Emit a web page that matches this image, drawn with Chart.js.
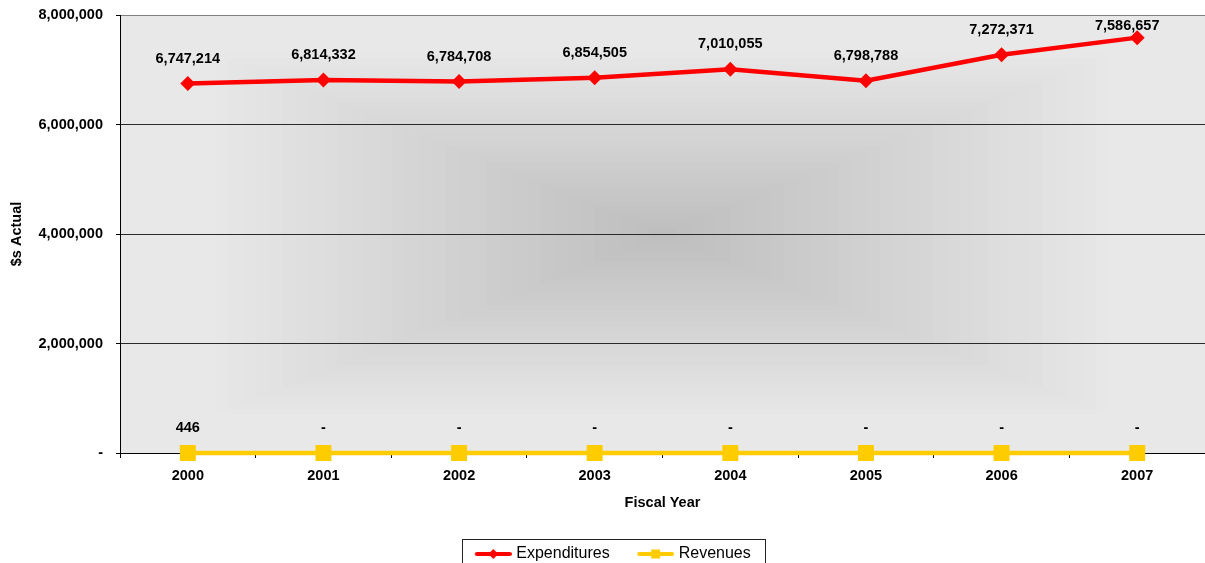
<!DOCTYPE html>
<html>
<head>
<meta charset="utf-8">
<script src="https://cdn.jsdelivr.net/npm/chart.js@4/dist/chart.umd.min.js"></script>
<style>
  html, body { margin: 0; padding: 0; background: #ffffff; }
  canvas { display: block; }
</style>
</head>
<body>
<canvas id="grafico" width="1205" height="563"></canvas>
<script>
const anios = ["2000", "2001", "2002", "2003", "2004", "2005", "2006", "2007"];
const gastos = [6747214, 6814332, 6784708, 6854505, 7010055, 6798788, 7272371, 7586657];
const ingresos = [446, 0, 0, 0, 0, 0, 0, 0];
const marcasY = [0, 2000000, 4000000, 6000000, 8000000];

const fuente = "'Liberation Sans', Arial, sans-serif";
const rojo = "#ff0000";
const amarillo = "#ffcc00";

const formato = (v) => (v === 0 ? "-" : v.toLocaleString("en-US"));

// muestra de la leyenda: linea con el marcador en medio
function muestra(color, forma) {
  const c = document.createElement("canvas");
  c.width = 61;
  c.height = 20;
  const g = c.getContext("2d");
  g.strokeStyle = color;
  g.lineWidth = 4;
  g.lineCap = "round";
  g.beginPath();
  g.moveTo(c.width - 35, 10);
  g.lineTo(c.width - 2, 10);
  g.stroke();
  g.fillStyle = color;
  const mx = c.width - 18.5;
  if (forma === "rombo") {
    g.beginPath();
    g.moveTo(mx - 5, 10);
    g.lineTo(mx, 5);
    g.lineTo(mx + 5, 10);
    g.lineTo(mx, 15);
    g.closePath();
    g.fill();
  } else {
    g.fillRect(mx - 4.5, 5.5, 9, 9);
  }
  return c;
}

// fondo del area de trazado, degradado rectangular desde el centro
const fondo = {
  id: "fondo",
  beforeDraw(chart) {
    const { ctx, chartArea: a } = chart;
    const cx = (a.left + a.right) / 2;
    const cy = (a.top + a.bottom) / 2;
    const hw = (a.right - a.left) / 2;
    const hh = (a.bottom - a.top) / 2;
    const pasos = 40;
    ctx.save();
    for (let i = pasos; i >= 1; i--) {
      const t = i / pasos;
      const k = Math.min(1, t / 0.85);
      const v = Math.round(189 + (232 - 189) * k);
      ctx.fillStyle = `rgb(${v},${v},${v})`;
      ctx.fillRect(cx - hw * t, cy - hh * t, hw * 2 * t, hh * 2 * t);
    }
    ctx.restore();
  },
};

// etiquetas de valor encima de cada punto
const etiquetas = {
  id: "etiquetas",
  afterDatasetsDraw(chart) {
    const { ctx, chartArea: a } = chart;
    ctx.save();
    ctx.font = "bold 14.5px " + fuente;
    ctx.fillStyle = "#000";
    ctx.textAlign = "center";
    ctx.textBaseline = "middle";
    chart.data.datasets.forEach((ds, i) => {
      chart.getDatasetMeta(i).data.forEach((p, j) => {
        let x = p.x;
        let y = p.y - 25;
        if (y < a.top + 11) {
          y = a.top + 11;
          x -= 10;
        }
        ctx.fillText(formato(ds.data[j]), x, y);
      });
    });
    ctx.restore();
  },
};

// recuadro alrededor de la leyenda
const marcoLeyenda = {
  id: "marcoLeyenda",
  afterDraw(chart) {
    const cajas = chart.legend.legendHitBoxes;
    if (!cajas || !cajas.length) return;
    const ultima = cajas[cajas.length - 1];
    const izq = Math.round(cajas[0].left + 8) + 0.5;
    const der = Math.round(ultima.left + ultima.width + 14) + 0.5;
    const arriba = Math.round(chart.legend.top) + 0.5;
    const { ctx } = chart;
    ctx.save();
    ctx.strokeStyle = "#222";
    ctx.lineWidth = 1;
    ctx.strokeRect(izq, arriba, der - izq, 40);
    ctx.restore();
  },
};

const muestras = [muestra(rojo, "rombo"), muestra(amarillo, "cuadro")];

new Chart(document.getElementById("grafico").getContext("2d"), {
  type: "line",
  data: {
    labels: anios,
    datasets: [
      {
        label: "Expenditures",
        data: gastos,
        borderColor: rojo,
        backgroundColor: rojo,
        borderWidth: 4.5,
        pointStyle: "rectRot",
        pointRadius: 7.5,
        pointBorderWidth: 0,
        tension: 0,
        clip: false,
      },
      {
        label: "Revenues",
        data: ingresos,
        borderColor: amarillo,
        backgroundColor: amarillo,
        borderWidth: 4.5,
        pointStyle: "rect",
        pointRadius: 11.3,
        pointBorderWidth: 0,
        tension: 0,
        clip: false,
      },
    ],
  },
  options: {
    responsive: false,
    animation: false,
    events: [],
    layout: { autoPadding: false, padding: { top: 15, right: 0, bottom: 0, left: 0 } },
    plugins: {
      tooltip: { enabled: false },
      legend: {
        position: "bottom",
        maxHeight: 24,
        labels: {
          usePointStyle: true,
          pointStyleWidth: 54,
          padding: 7,
          color: "#000",
          font: { family: fuente, size: 16 },
          generateLabels(chart) {
            const items = Chart.defaults.plugins.legend.labels.generateLabels(chart);
            items.forEach((it, i) => (it.pointStyle = muestras[i]));
            return items;
          },
        },
      },
    },
    scales: {
      x: {
        offset: true,
        grid: {
          offset: true,
          drawOnChartArea: false,
          tickLength: 5,
          tickColor: "#000",
        },
        border: { color: "#000", width: 1 },
        ticks: {
          color: "#000",
          padding: 9,
          font: { family: fuente, size: 14.5, weight: "bold" },
        },
        title: {
          display: true,
          text: "Fiscal Year",
          color: "#000",
          padding: { top: 27, bottom: 27 },
          font: { family: fuente, size: 14.5, weight: "bold" },
        },
        afterFit(s) {
          s.height = 86;
          s.paddingLeft = 0;
          s.paddingRight = 0;
        },
      },
      y: {
        min: 0,
        max: 8000000,
        grid: {
          color: (c) => (c.tick && c.tick.value === 8000000 ? "#808080" : "#2a2a2a"),
          tickColor: "#000",
          tickLength: 4,
        },
        border: { color: "#000", width: 1 },
        afterBuildTicks(s) {
          s.ticks = marcasY.map((v) => ({ value: v }));
        },
        ticks: {
          color: "#000",
          padding: 13,
          font: { family: fuente, size: 14.5, weight: "bold" },
          callback: (v) => formato(v),
        },
        title: {
          display: true,
          text: "$s Actual",
          color: "#000",
          padding: { top: 8, bottom: 8 },
          font: { family: fuente, size: 14.5, weight: "bold" },
        },
        afterFit(s) {
          s.width = 120;
          s.paddingTop = 0;
          s.paddingBottom = 0;
        },
      },
    },
  },
  plugins: [fondo, etiquetas, marcoLeyenda],
});
</script>
</body>
</html>
